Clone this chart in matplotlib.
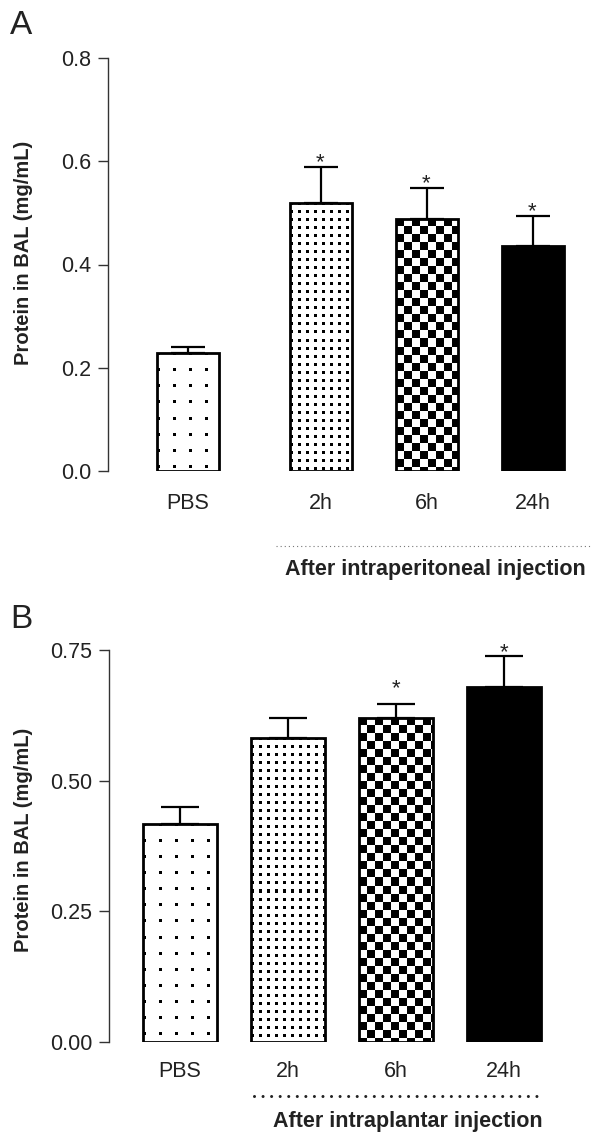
import numpy as np
import matplotlib
matplotlib.use("Agg")
import matplotlib.pyplot as plt
from matplotlib.lines import Line2D
from matplotlib.ticker import FormatStrFormatter

plt.rcParams['font.family'] = ['Liberation Sans', 'DejaVu Sans']

# data
groups = ['PBS', '2h', '6h', '24h']
protein_ip = [0.229, 0.520, 0.489, 0.435]   # panel A, intraperitoneal
sem_ip = [0.012, 0.068, 0.059, 0.058]
sig_ip = [False, True, True, True]
protein_pl = [0.418, 0.582, 0.620, 0.679]   # panel B, intraplantar
sem_pl = [0.032, 0.037, 0.027, 0.060]
sig_pl = [False, False, True, True]

W, H = 592, 1133
DPI = 100
fig = plt.figure(figsize=(W / DPI, H / DPI), dpi=DPI)


def fx(x):
    return x / W


def fy(y):
    return 1 - y / H


def pattern(kind, h, w):
    yy, xx = np.mgrid[0:h, 0:w]
    if kind == 'sparse':
        dots = ((xx % 16) < 3) & ((yy % 16) < 3)
        return np.where(dots, 0.0, 1.0)
    if kind == 'dense':
        dots = ((xx % 8) < 3) & ((yy % 8) < 3)
        return np.where(dots, 0.0, 1.0)
    if kind == 'checker':
        return (((xx // 8) + (yy // 8)) % 2).astype(float)
    return np.zeros((h, w))


fills = ['sparse', 'dense', 'checker', 'solid']


def panel(rect, pos, width, vals, errs, sig, ymax, ticks, fmt, capsize, star_off, lab_pad):
    ax = fig.add_axes(rect)
    ax.set_xlim(*pos['xlim'])
    ax.set_ylim(0, ymax)
    ax.set_autoscale_on(False)
    x = pos['x']
    bars = ax.bar(x, vals, width=width, facecolor='none', edgecolor='black',
                  linewidth=2.0, zorder=3)
    fig.canvas.draw()
    for b, kind in zip(bars, fills):
        x0, y0 = b.get_x(), b.get_y()
        x1, y1 = x0 + b.get_width(), y0 + b.get_height()
        p0 = ax.transData.transform((x0, y0))
        p1 = ax.transData.transform((x1, y1))
        wpx = max(int(round(p1[0] - p0[0])), 1)
        hpx = max(int(round(p1[1] - p0[1])), 1)
        im = ax.imshow(pattern(kind, hpx, wpx), cmap='gray', vmin=0, vmax=1,
                       extent=(x0, x1, y0, y1), origin='upper', aspect='auto',
                       interpolation='nearest', zorder=2)
        im.set_clip_path(b)
    ax.errorbar(x, vals, yerr=[np.zeros(len(vals)), errs], fmt='none',
                ecolor='black', elinewidth=1.6, capsize=capsize, capthick=1.6,
                zorder=4)
    for xi, v, e, s, off in zip(x, vals, errs, sig, star_off):
        if s:
            ax.annotate('*', xy=(xi, v + e), xytext=(0, off),
                        textcoords='offset points', ha='center', va='baseline',
                        fontsize=16, color='#222222')
    for sp in ['top', 'right', 'bottom']:
        ax.spines[sp].set_visible(False)
    ax.spines['left'].set_color('#333333')
    ax.spines['left'].set_linewidth(1.0)
    ax.spines['left'].set_bounds(0, ymax)
    ax.set_yticks(ticks)
    ax.yaxis.set_major_formatter(FormatStrFormatter(fmt))
    ax.tick_params(axis='y', direction='out', length=7, width=1.0,
                   color='#333333', labelsize=15.5, labelcolor='#222222', pad=5)
    ax.set_xticks(x)
    ax.set_xticklabels(groups)
    ax.tick_params(axis='x', length=0, labelsize=15.5, labelcolor='#222222',
                   pad=lab_pad)
    ax.patch.set_visible(False)
    return ax


# panel A
posA = {'x': [0, 1.25, 2.25, 3.25], 'xlim': (-80 / 106, 404 / 106)}
panel([fx(108), fy(471), fx(592 - 108), (471 - 58) / H], posA, 62 / 106,
      protein_ip, sem_ip, sig_ip, 0.8, [0.0, 0.2, 0.4, 0.6, 0.8], '%.1f',
      12, [-0.5, -0.5, -0.5, -0.5], 16)

# panel B
posB = {'x': [0, 1, 2, 3], 'xlim': (-71 / 108, 412 / 108)}
panel([fx(109), fy(1042), fx(592 - 109), (1042 - 650) / H], posB, 74 / 108,
      protein_pl, sem_pl, sig_pl, 0.75, [0.0, 0.25, 0.5, 0.75], '%.2f',
      14, [-0.5, -0.5, 7, -1.5], 14)

# panel letters and y labels
fig.text(fx(21), fy(26), 'A', fontsize=24, ha='center', va='center', color='#222222')
fig.text(fx(21), fy(620), 'B', fontsize=24, ha='center', va='center', color='#222222')
fig.text(fx(24), fy(253), 'Protein in BAL (mg/mL)', rotation=90, fontsize=14.5,
         fontweight='bold', ha='center', va='center', color='#222222')
fig.text(fx(24), fy(840), 'Protein in BAL (mg/mL)', rotation=90, fontsize=14.5,
         fontweight='bold', ha='center', va='center', color='#222222')

# group annotations
fig.add_artist(Line2D([fx(276), fx(592)], [fy(546), fy(546)], color='#777777',
                      linewidth=0.8, linestyle=(0, (1, 2.7)),
                      transform=fig.transFigure))
fig.text(fx(435), fy(570), 'After intraperitoneal injection', fontsize=15.5,
         fontweight='bold', ha='center', va='center', color='#222222')
fig.add_artist(Line2D([fx(254), fx(540)], [fy(1096), fy(1096)], color='#222222',
                      linewidth=2.2, linestyle=(0, (0.001, 2.8)),
                      dash_capstyle='round', transform=fig.transFigure))
fig.text(fx(408), fy(1121), 'After intraplantar injection', fontsize=15.5,
         fontweight='bold', ha='center', va='center', color='#222222')

fig.savefig('out.png', dpi=DPI)
